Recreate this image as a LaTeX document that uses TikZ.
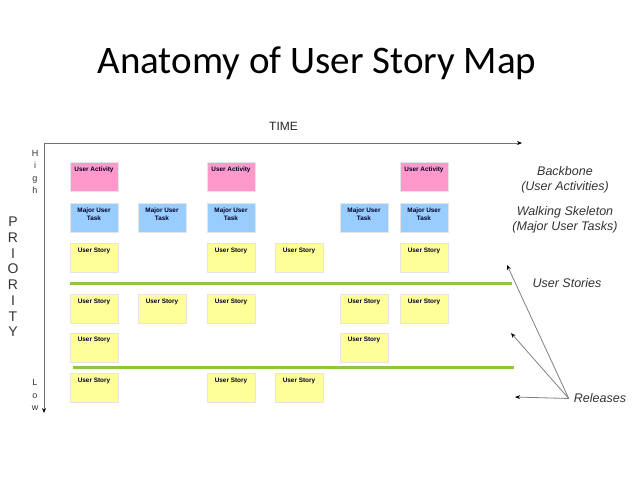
\documentclass[tikz,border=0pt]{standalone}
\usepackage{fontspec}
\setmainfont{Liberation Sans}
\newfontfamily\titlefont{Carlito}
\usepackage{tikz}
\usetikzlibrary{positioning,arrows.meta}
\definecolor{activitypink}{HTML}{FF99CC}
\definecolor{taskblue}{HTML}{99CCFF}
\definecolor{storyyellow}{HTML}{FFFF99}
\definecolor{releasegreen}{HTML}{8DC63F}
\definecolor{sidegray}{HTML}{333333}
\tikzset{%
  every note/.style={
    rectangle,
    draw=black!10,
    minimum width=48pt,
    minimum height=29pt,
    inner sep=0pt
  },
  note text/.style={
    anchor=north,
    yshift=-4.5pt,
    inner sep=0pt,
    align=center,
    text=black!85!blue,
    font=\fontsize{6.4}{7.6}\selectfont\bfseries
  },
  activity/.style={every note, fill=activitypink, label={[note text]north:User Activity}},
  task/.style={every note, fill=taskblue, label={[note text]north:Major User\\Task}},
  story/.style={every note, fill=storyyellow, label={[note text]north:User Story}},
  release line/.style={releasegreen, line width=3pt},
  axis line/.style={black!55, line width=0.8pt},
  pointer/.style={black!50, line width=0.8pt, -{Stealth[black, length=5pt, width=4pt]}},
  side text/.style={
    align=center,
    text=sidegray,
    font=\fontsize{12.5}{15.5}\selectfont\itshape
  },
}

\begin{document}
\begin{tikzpicture}[> = {Stealth[black, length=5pt, width=4pt]}, x=1pt, y=-1pt]
\useasboundingbox (0,0) rectangle (638,479);

\node[anchor=base, font=\titlefont\fontsize{39}{46}\selectfont] (title) at (317,73) {Anatomy of User Story Map};

\coordinate (origin) at (44,143);
\coordinate (time end) at (522,143);
\coordinate (priority end) at (44,413);
\draw[axis line, ->] (origin) -- (time end);
\draw[axis line, ->] (origin) -- (priority end);

\node[anchor=base, font=\fontsize{12}{14}\selectfont, text=black!85] (time) at (283.5,130) {TIME};
\node[align=center, font=\fontsize{9}{12.2}\selectfont, text=black!80] (high) at (35,172) {H\\i\\g\\h};
\node[align=center, font=\fontsize{14}{15.7}\selectfont, text=black!80] (priority) at (13,277) {P\\R\\I\\O\\R\\I\\T\\Y};
\node[align=center, font=\fontsize{9}{12.5}\selectfont, text=black!80] (low) at (35,395) {L\\o\\w};

\node[activity] (a1) at (94,177) {};
\node[activity] (a3) at (231,177) {};
\node[activity] (a6) at (424,177) {};

\node[task] (t1) at (94,218) {};
\node[task] (t2) at (162,218) {};
\node[task] (t3) at (231,218) {};
\node[task] (t5) at (364,218) {};
\node[task] (t6) at (424,218) {};

\node[story] (s31) at (94,258) {};
\node[story] (s33) at (231,258) {};
\node[story] (s34) at (299,258) {};
\node[story] (s36) at (424,258) {};

\node[story] (s41) at (94,309) {};
\node[story] (s42) at (162,309) {};
\node[story] (s43) at (231,309) {};
\node[story] (s45) at (364,309) {};
\node[story] (s46) at (424,309) {};

\node[story] (s51) at (94,347.5) {};
\node[story] (s55) at (364,347.5) {};

\node[story] (s61) at (94,388) {};
\node[story] (s63) at (231,388) {};
\node[story] (s64) at (299,388) {};

\coordinate (release one west) at (70,283);
\coordinate (release one east) at (512,283);
\coordinate (release two west) at (73,367);
\coordinate (release two east) at (514,367);
\draw[release line] (release one west) -- (release one east);
\draw[release line] (release two west) -- (release two east);

\node[side text] (backbone) at (565,180) {Backbone\\(User Activities)};
\node[side text] (skeleton) at (565,220) {Walking Skeleton\\(Major User Tasks)};
\node[side text] (stories) at (567,283) {User Stories};
\node[side text, inner sep=5pt] (releases) at (600,398.5) {Releases};

\coordinate (tip one) at (507,265);
\coordinate (tip two) at (511,333);
\coordinate (tip three) at (515,397);
\draw[pointer] (releases.west) -- (tip one);
\draw[pointer] (releases.west) -- (tip two);
\draw[pointer] (releases.west) -- (tip three);
\end{tikzpicture}
\end{document}
